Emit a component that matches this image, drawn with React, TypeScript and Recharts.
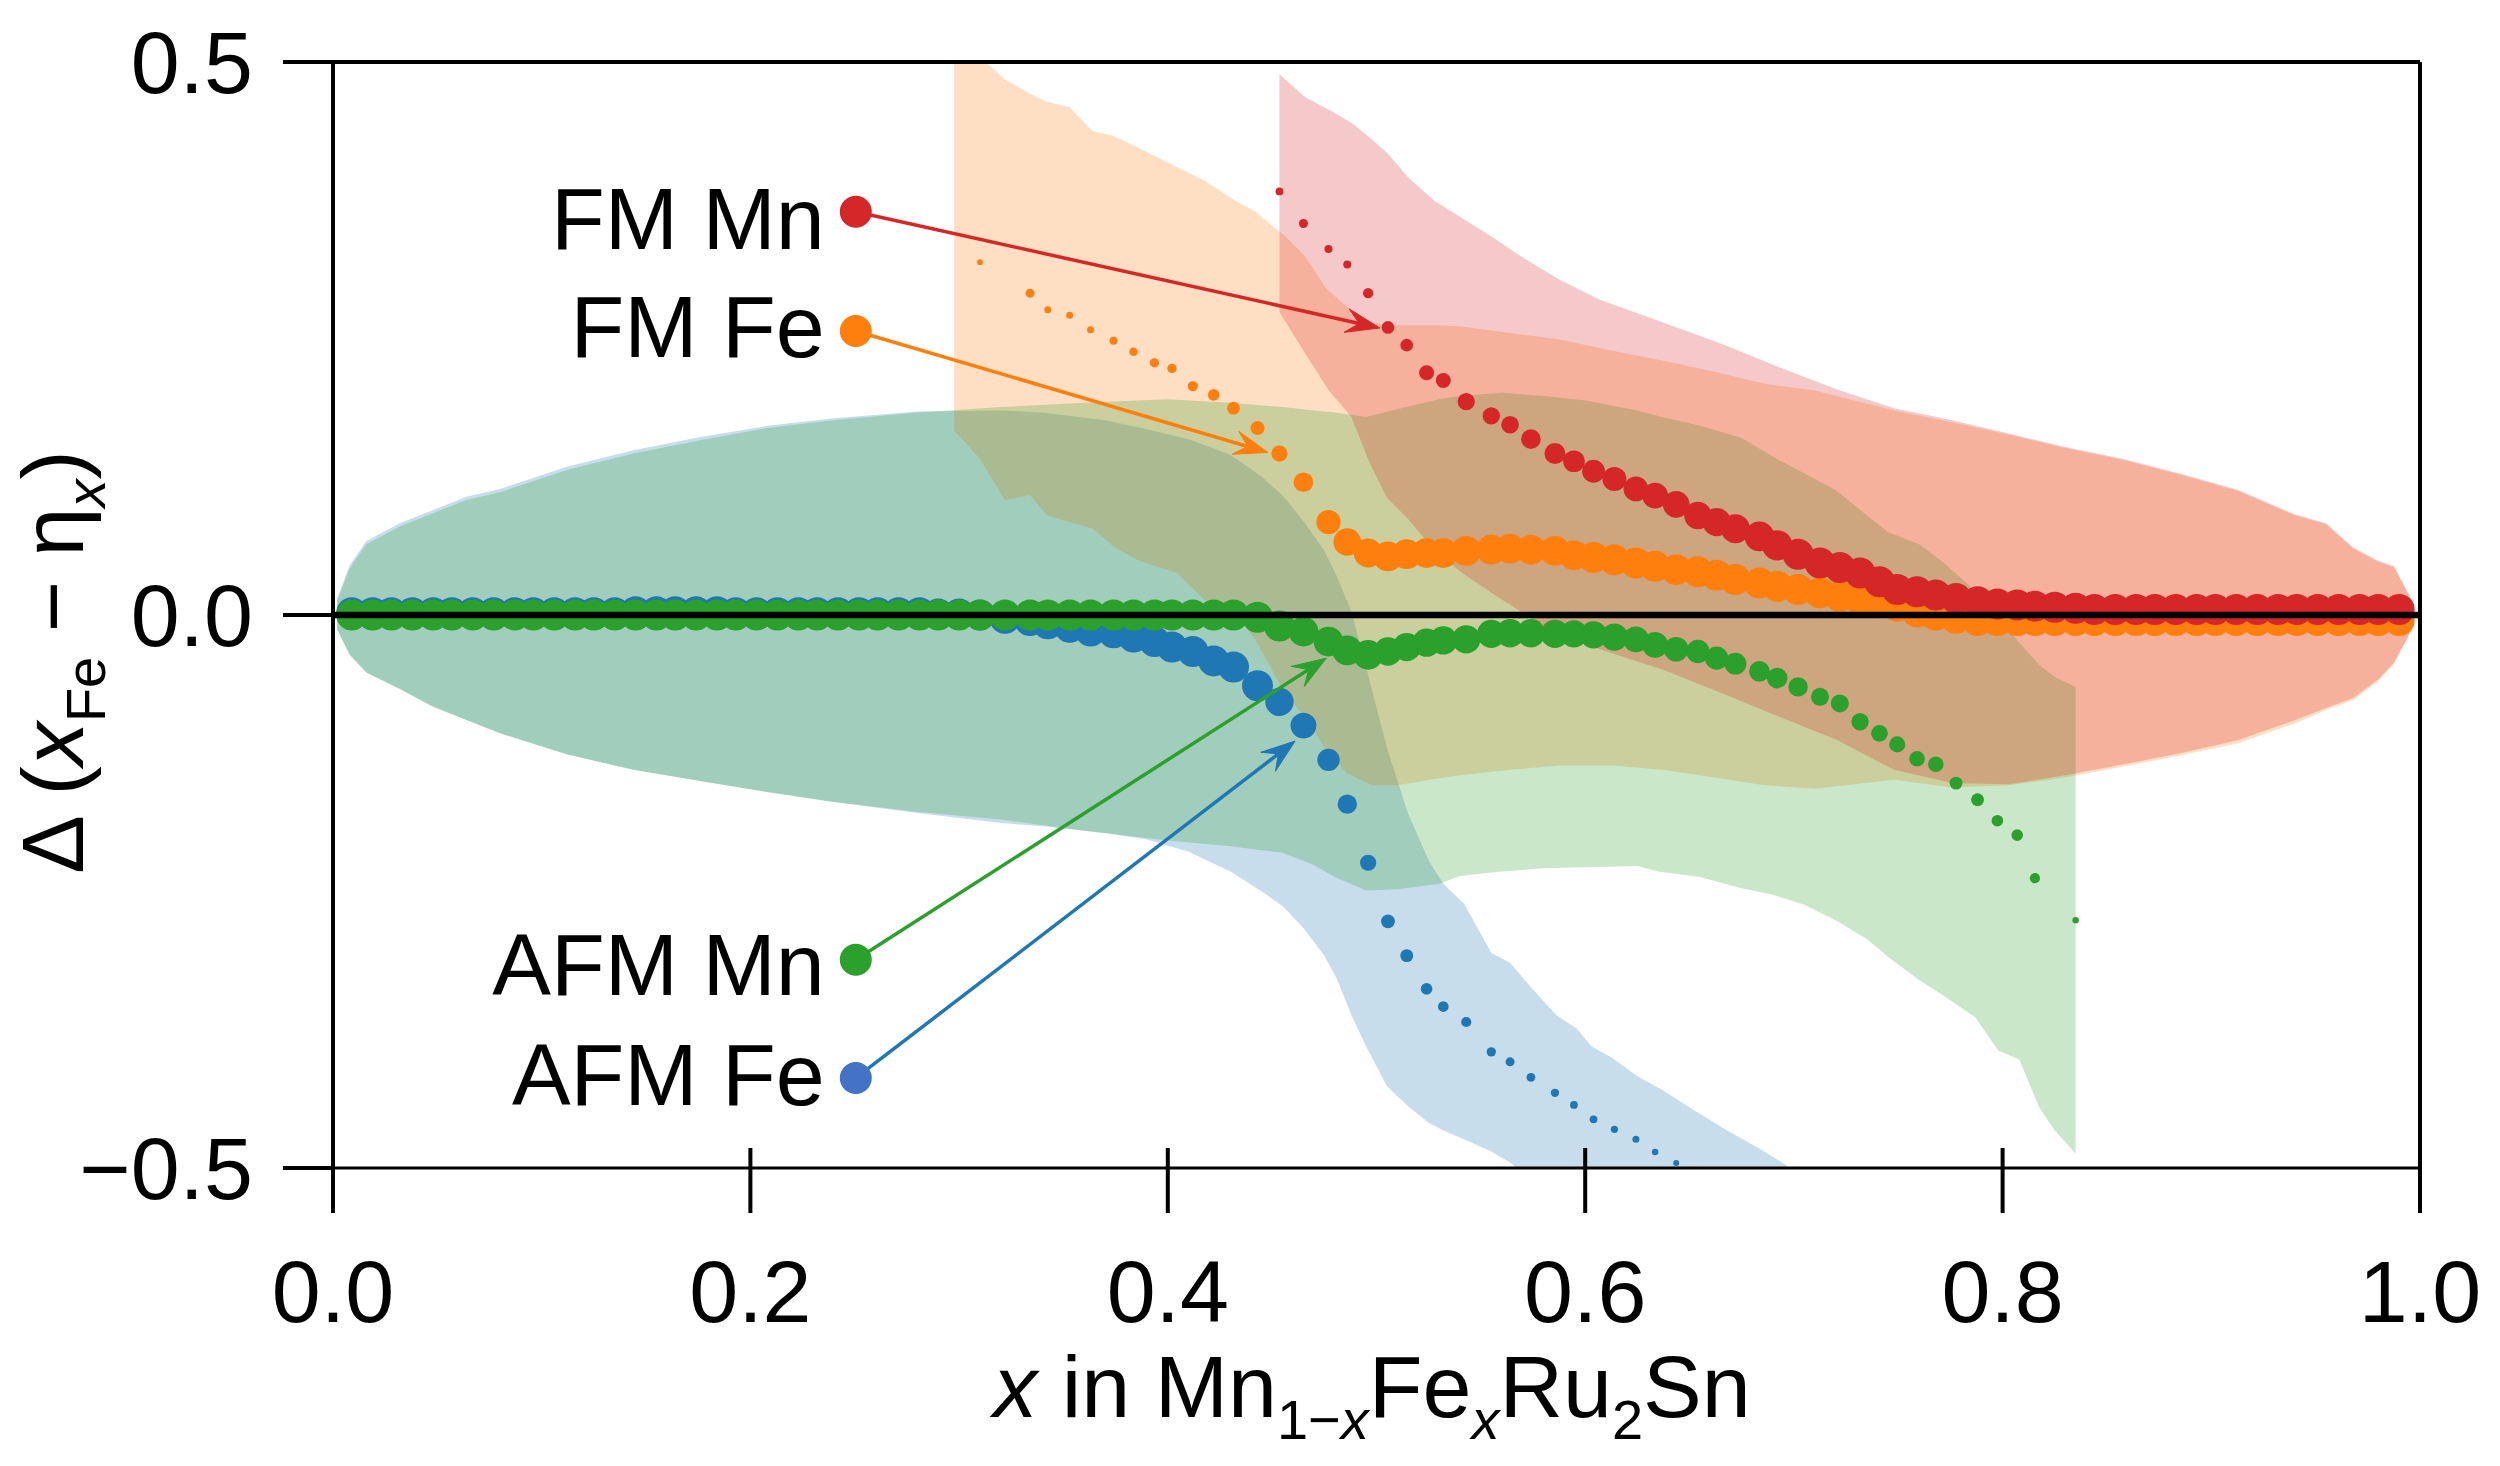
import { ComposedChart, XAxis, YAxis, ZAxis, Area, Scatter, ReferenceLine, ReferenceDot } from "recharts"

const FONT = "'Liberation Sans', Arial, Helvetica, sans-serif"

const BLUE = "#1f77b4"
const ORANGE = "#ff7f0e"
const GREEN = "#2ca02c"
const RED = "#d62728"

const xTicks = [0, 0.2, 0.4, 0.6, 0.8, 1.0]
const yTicks = [-0.5, 0, 0.5]

// --- AFM Fe (blue) points ---
const afmFeX = [
  0.009, 0.019, 0.028, 0.038, 0.048, 0.057, 0.067, 0.077, 0.087, 0.096, 0.106, 0.116, 0.125, 0.135, 0.145, 0.155,
  0.164, 0.174, 0.184, 0.193, 0.203, 0.213, 0.223, 0.232, 0.242, 0.252, 0.261, 0.271, 0.281, 0.29, 0.3,
  0.31, 0.322, 0.334, 0.3425, 0.353, 0.363, 0.374, 0.3836, 0.3936, 0.402, 0.412, 0.422, 0.4315, 0.443, 0.4535,
  0.465, 0.477, 0.486, 0.496, 0.5055, 0.5145, 0.524, 0.532, 0.543, 0.555, 0.564, 0.574, 0.5855, 0.5946, 0.604,
  0.614, 0.6243, 0.6335, 0.6436,
]
const afmFeY = [
  0.002, 0.002, 0.002, 0.002, 0.002, 0.002, 0.002, 0.002, 0.002, 0.002, 0.002, 0.002, 0.002, 0.002, 0.003, 0.003,
  0.003, 0.003, 0.003, 0.002, 0.002, 0.002, 0.002, 0.002, 0.002, 0.002, 0.002, 0.002, 0.002, 0.001, 0.001,
  0, -0.003, -0.005, -0.008, -0.011, -0.0145, -0.016, -0.02, -0.024, -0.029, -0.033, -0.0415, -0.047, -0.064, -0.0785,
  -0.1, -0.131, -0.171, -0.224, -0.277, -0.308, -0.338, -0.354, -0.368, -0.395, -0.404, -0.418, -0.432, -0.443, -0.456,
  -0.465, -0.474, -0.4855, -0.4955,
]
const afmFeW = [
  0.92, 0.92, 0.92, 0.92, 0.92, 0.92, 0.92, 0.92, 0.92, 0.92, 0.92, 0.92, 0.92, 0.92, 0.92, 0.92,
  0.92, 0.92, 0.92, 0.92, 0.92, 0.92, 0.92, 0.92, 0.92, 0.92, 0.92, 0.92, 0.92, 0.92, 0.92,
  0.92, 0.92, 0.92, 0.92, 0.92, 0.92, 0.92, 0.92, 0.92, 0.92, 0.92, 0.92, 0.92, 0.92, 0.77,
  0.64, 0.48, 0.36, 0.25, 0.18, 0.16, 0.13, 0.11, 0.1, 0.083, 0.078, 0.074, 0.066, 0.058, 0.058,
  0.05, 0.047, 0.04, 0.034,
]

// --- AFM Mn (green) points ---
const afmMnX = [
  0.009, 0.019, 0.028, 0.038, 0.048, 0.057, 0.067, 0.077, 0.087, 0.096, 0.106, 0.116, 0.125, 0.135, 0.145, 0.155,
  0.164, 0.174, 0.184, 0.193, 0.203, 0.213, 0.223, 0.232, 0.242, 0.252, 0.261, 0.271, 0.281, 0.29, 0.3,
  0.31, 0.322, 0.334, 0.3425, 0.353, 0.363, 0.374, 0.3836, 0.3936, 0.402, 0.412, 0.422, 0.4315, 0.443, 0.4535,
  0.465, 0.477, 0.486, 0.496, 0.5055, 0.5145, 0.524, 0.532, 0.543, 0.555, 0.564, 0.574, 0.5855, 0.5946, 0.604,
  0.614, 0.6243, 0.6335, 0.6436, 0.654, 0.663, 0.672, 0.6835, 0.692, 0.702, 0.7125, 0.722, 0.7317, 0.741, 0.7495,
  0.759, 0.768, 0.7777, 0.788, 0.7975, 0.807, 0.8155, 0.835,
]
const afmMnY = [
  0, 0, 0, 0, 0, 0, 0, 0, 0, 0, 0, 0, 0, 0, 0, 0,
  0, 0, 0, 0, 0, 0, 0, 0, 0, 0, 0, 0, 0, 0, 0,
  0, 0, 0, 0, 0, 0, 0, 0, 0, 0, 0, 0, 0, -0.002, -0.01,
  -0.015, -0.024, -0.032, -0.036, -0.033, -0.029, -0.025, -0.023, -0.022, -0.017, -0.0165, -0.0165, -0.017, -0.017, -0.018,
  -0.02, -0.022, -0.027, -0.031, -0.033, -0.039, -0.044, -0.051, -0.057, -0.065, -0.074, -0.08, -0.0965, -0.107, -0.117,
  -0.13, -0.135, -0.152, -0.167, -0.186, -0.199, -0.238, -0.276,
]
const afmMnW = [
  0.92, 0.92, 0.92, 0.92, 0.92, 0.92, 0.92, 0.92, 0.92, 0.92, 0.92, 0.92, 0.92, 0.92, 0.92, 0.92,
  0.92, 0.92, 0.92, 0.92, 0.92, 0.92, 0.92, 0.92, 0.92, 0.92, 0.92, 0.92, 0.92, 0.92, 0.92,
  0.92, 0.92, 0.92, 0.92, 0.92, 0.92, 0.92, 0.92, 0.92, 0.92, 0.92, 0.92, 0.92, 0.92, 0.92,
  0.85, 0.85, 0.85, 0.85, 0.77, 0.77, 0.77, 0.77, 0.77, 0.77, 0.77, 0.77, 0.77, 0.71, 0.71,
  0.71, 0.64, 0.64, 0.58, 0.52, 0.52, 0.46, 0.41, 0.41, 0.36, 0.31, 0.31, 0.29, 0.27, 0.25,
  0.23, 0.23, 0.16, 0.16, 0.13, 0.13, 0.1, 0.04,
]

// --- FM Fe (orange) points ---
const fmFeX = [
  0.31, 0.334, 0.3425, 0.353, 0.363, 0.374, 0.3836, 0.3936, 0.402, 0.412, 0.422, 0.4315, 0.443, 0.4535,
  0.465, 0.477, 0.486, 0.496, 0.5055, 0.5145, 0.524, 0.532, 0.543, 0.555, 0.564, 0.574, 0.5855, 0.5946, 0.604,
  0.614, 0.6243, 0.6335, 0.6436, 0.654, 0.663, 0.672, 0.6835, 0.692, 0.702, 0.7125, 0.722, 0.7317, 0.741, 0.7495,
  0.759, 0.768, 0.7777, 0.788, 0.7975, 0.807, 0.8155, 0.825, 0.835,
  0.844, 0.854, 0.864, 0.873, 0.883, 0.893, 0.902, 0.912, 0.922, 0.932, 0.941, 0.951, 0.961, 0.971, 0.98, 0.99,
]
const fmFeY = [
  0.319, 0.291, 0.276, 0.271, 0.258, 0.248, 0.238, 0.228, 0.223, 0.207, 0.199, 0.187, 0.169, 0.146,
  0.12, 0.084, 0.066, 0.056, 0.053, 0.055, 0.056, 0.056, 0.058, 0.059, 0.06, 0.059, 0.058, 0.054, 0.052,
  0.05, 0.047, 0.044, 0.041, 0.039, 0.036, 0.032, 0.029, 0.026, 0.023, 0.02, 0.017, 0.014, 0.011, 0.008,
  0.003, 0, -0.003, -0.005, -0.005, -0.005, -0.005, -0.005, -0.005,
  -0.005, -0.005, -0.005, -0.005, -0.005, -0.005, -0.005, -0.005, -0.005, -0.005, -0.005, -0.005, -0.005, -0.005, -0.005, -0.005,
]
const fmFeW = [
  0.031, 0.078, 0.047, 0.047, 0.047, 0.062, 0.07, 0.083, 0.083, 0.102, 0.13, 0.154, 0.187, 0.254,
  0.37, 0.566, 0.733, 0.8, 0.85, 0.85, 0.85, 0.85, 0.85, 0.85, 0.85, 0.85, 0.85, 0.85, 0.92,
  0.92, 0.92, 0.92, 0.92, 0.92, 0.92, 0.92, 0.92, 0.92, 0.92, 0.92, 0.92, 0.92, 0.92, 0.92,
  0.92, 0.92, 0.92, 0.92, 0.92, 0.92, 0.92, 0.92, 0.92,
  0.92, 0.92, 0.92, 0.92, 0.92, 0.92, 0.92, 0.92, 0.92, 0.92, 0.92, 0.92, 0.92, 0.92, 0.92, 0.92,
]

// --- FM Mn (red) points ---
const fmMnX = [
  0.4535, 0.465, 0.477, 0.486, 0.496, 0.5055, 0.5145, 0.524, 0.532, 0.543, 0.555, 0.564, 0.574, 0.5855, 0.5946, 0.604,
  0.614, 0.6243, 0.6335, 0.6436, 0.654, 0.663, 0.672, 0.6835, 0.692, 0.702, 0.7125, 0.722, 0.7317, 0.741, 0.7495,
  0.759, 0.768, 0.7777, 0.788, 0.7975, 0.807, 0.8155, 0.825, 0.835,
  0.844, 0.854, 0.864, 0.873, 0.883, 0.893, 0.902, 0.912, 0.922, 0.932, 0.941, 0.951, 0.961, 0.971, 0.98, 0.99,
]
const fmMnY = [
  0.383, 0.354, 0.331, 0.317, 0.291, 0.26, 0.244, 0.219, 0.212, 0.193, 0.18, 0.172, 0.159, 0.146, 0.139, 0.13,
  0.123, 0.114, 0.108, 0.1, 0.09, 0.084, 0.078, 0.071, 0.063, 0.055, 0.047, 0.043, 0.038, 0.03, 0.023,
  0.021, 0.018, 0.015, 0.012, 0.01, 0.009, 0.008, 0.007, 0.006,
  0.005, 0.005, 0.005, 0.005, 0.005, 0.005, 0.005, 0.005, 0.005, 0.005, 0.005, 0.005, 0.005, 0.005, 0.005, 0.005,
]
const fmMnW = [
  0.058, 0.078, 0.062, 0.062, 0.102, 0.154, 0.154, 0.215, 0.215, 0.287, 0.287, 0.3, 0.37, 0.42, 0.45, 0.5,
  0.55, 0.59, 0.64, 0.68, 0.72, 0.77, 0.8, 0.85, 0.88, 0.92, 0.92, 0.92, 0.92, 0.92, 0.92,
  0.92, 0.92, 0.92, 0.92, 0.92, 0.92, 0.92, 0.92, 0.92,
  0.92, 0.92, 0.92, 0.92, 0.92, 0.92, 0.92, 0.92, 0.92, 0.92, 0.92, 0.92, 0.92, 0.92, 0.92, 0.92,
]

// --- uncertainty bands ---
const afmFeBandX = [
  0.002, 0.008, 0.016, 0.032, 0.048, 0.064, 0.08, 0.112, 0.144, 0.176, 0.208, 0.24, 0.28, 0.32, 0.34, 0.37, 0.39,
  0.41, 0.43, 0.445, 0.455, 0.465, 0.475, 0.481, 0.488, 0.495, 0.505, 0.515, 0.525, 0.532, 0.542, 0.555, 0.564,
  0.574, 0.586, 0.596, 0.603, 0.613, 0.625, 0.637, 0.652, 0.667, 0.684, 0.696, 0.7,
]
const afmFeBandLo = [
  -0.013, -0.036, -0.052, -0.067, -0.083, -0.095, -0.107, -0.126, -0.14, -0.15, -0.16, -0.169, -0.179, -0.188, -0.191, -0.197, -0.203,
  -0.214, -0.232, -0.25, -0.263, -0.283, -0.308, -0.329, -0.362, -0.39, -0.426, -0.444, -0.459, -0.466, -0.474, -0.485, -0.495,
  -0.51, -0.53, -0.55, -0.56, -0.57, -0.58, -0.59, -0.6, -0.61, -0.62, -0.63, -0.63,
]
const afmFeBandHi = [
  0.015, 0.045, 0.067, 0.083, 0.095, 0.107, 0.114, 0.134, 0.149, 0.161, 0.171, 0.178, 0.184, 0.185, 0.183, 0.176, 0.168,
  0.159, 0.145, 0.125, 0.108, 0.085, 0.058, 0.035, 0.003, -0.047, -0.12, -0.179, -0.222, -0.243, -0.261, -0.3055, -0.3145,
  -0.3365, -0.3615, -0.374, -0.39, -0.4005, -0.417, -0.4295, -0.4475, -0.465, -0.483, -0.497, -0.505,
]

const afmMnBandX = [
  0.002, 0.008, 0.016, 0.032, 0.048, 0.064, 0.08, 0.112, 0.144, 0.176, 0.208, 0.24, 0.28, 0.32, 0.36, 0.4, 0.43,
  0.455, 0.47, 0.48, 0.495, 0.51, 0.53, 0.54, 0.56, 0.58, 0.6, 0.625, 0.635, 0.655, 0.675, 0.69, 0.705, 0.72,
  0.735, 0.745, 0.76, 0.77, 0.787, 0.798, 0.808, 0.8175, 0.825, 0.835,
]
const afmMnBandLo = [
  -0.013, -0.036, -0.052, -0.067, -0.083, -0.095, -0.107, -0.126, -0.14, -0.15, -0.16, -0.169, -0.178, -0.185, -0.195, -0.204, -0.209,
  -0.215, -0.226, -0.237, -0.249, -0.248, -0.243, -0.236, -0.232, -0.229, -0.228, -0.227, -0.232, -0.237, -0.247, -0.253, -0.262, -0.276,
  -0.293, -0.309, -0.33, -0.342, -0.364, -0.394, -0.402, -0.445, -0.466, -0.487,
]
const afmMnBandHi = [
  0.013, 0.042, 0.064, 0.08, 0.092, 0.104, 0.111, 0.131, 0.146, 0.158, 0.169, 0.176, 0.183, 0.188, 0.192, 0.195, 0.192,
  0.188, 0.185, 0.183, 0.179, 0.186, 0.195, 0.198, 0.201, 0.198, 0.194, 0.185, 0.18, 0.171, 0.16, 0.143, 0.128, 0.113,
  0.09, 0.075, 0.064, 0.05, 0.022, 0, -0.025, -0.045, -0.056, -0.065,
]

const fmFeBandX = [
  0.2976, 0.31, 0.322, 0.334, 0.342, 0.353, 0.364, 0.374, 0.3856, 0.3915, 0.4044, 0.4173, 0.432, 0.4418, 0.4565,
  0.466, 0.476, 0.4858, 0.498, 0.51, 0.5285, 0.54, 0.564, 0.588, 0.613, 0.637, 0.662, 0.686, 0.71, 0.748,
  0.776, 0.803, 0.83, 0.858, 0.885, 0.913, 0.94, 0.955, 0.968, 0.98, 0.9876, 0.997,
]
const fmFeBandLo = [
  0.167, 0.141, 0.104, 0.1085, 0.09, 0.084, 0.078, 0.062, 0.0497, 0.0457, 0.038, 0.014, 0.003, -0.0217, -0.072,
  -0.093, -0.122, -0.143, -0.154, -0.154, -0.148, -0.145, -0.14, -0.136, -0.136, -0.14, -0.147, -0.154, -0.157, -0.149,
  -0.156, -0.154, -0.147, -0.137, -0.127, -0.116, -0.098, -0.086, -0.077, -0.06, -0.044, -0.01,
]
const fmFeBandHi = [
  0.52, 0.505, 0.484, 0.4715, 0.464, 0.459, 0.4375, 0.433, 0.423, 0.417, 0.405, 0.393, 0.375, 0.365, 0.342,
  0.324, 0.295, 0.279, 0.264, 0.262, 0.262, 0.261, 0.255, 0.249, 0.239, 0.23, 0.22, 0.209, 0.203, 0.185,
  0.174, 0.163, 0.151, 0.14, 0.127, 0.112, 0.09, 0.082, 0.06, 0.048, 0.043, 0.01,
]

const fmMnBandX = [
  0.4535, 0.466, 0.477, 0.488, 0.4966, 0.505, 0.5156, 0.528, 0.541, 0.556, 0.571, 0.588, 0.607, 0.638, 0.6656,
  0.693, 0.7207, 0.748, 0.776, 0.803, 0.83, 0.858, 0.885, 0.913, 0.94, 0.955, 0.968, 0.98, 0.9876, 0.997,
]
const fmMnBandLo = [
  0.274, 0.236, 0.2035, 0.179, 0.138, 0.106, 0.086, 0.058, 0.038, 0.019, 0.001, -0.019, -0.031, -0.05, -0.0707,
  -0.092, -0.113, -0.14, -0.152, -0.153, -0.145, -0.135, -0.125, -0.113, -0.095, -0.084, -0.075, -0.058, -0.043, -0.01,
]
const fmMnBandHi = [
  0.489, 0.468, 0.457, 0.445, 0.432, 0.418, 0.395, 0.374, 0.359, 0.341, 0.322, 0.303, 0.285, 0.264, 0.245,
  0.224, 0.204, 0.187, 0.176, 0.164, 0.152, 0.141, 0.128, 0.113, 0.091, 0.083, 0.061, 0.049, 0.044, 0.01,
]

// callout labels: marker position and arrow tip, in data units
const callouts = [
  { name: "FM Mn", line: RED, marker: RED, at: [0.2505, 0.3646], tip: [0.5016, 0.2595], textDy: 37 },
  { name: "FM Fe", line: ORANGE, marker: ORANGE, at: [0.2505, 0.2568], tip: [0.448, 0.147], textDy: 26 },
  { name: "AFM Mn", line: GREEN, marker: GREEN, at: [0.2505, -0.3117], tip: [0.476, -0.039], textDy: 35 },
  { name: "AFM Fe", line: BLUE, marker: "#4472c4", at: [0.2505, -0.4186], tip: [0.461, -0.114], textDy: 27 },
]

const points = (xs: number[], ys: number[], ws: number[]) => xs.map((x, i) => ({ x, y: ys[i], w: ws[i] }))
const band = (xs: number[], lo: number[], hi: number[]) => xs.map((x, i) => ({ x, range: [lo[i], hi[i]] }))

const afmFePts = points(afmFeX, afmFeY, afmFeW)
const afmMnPts = points(afmMnX, afmMnY, afmMnW)
const fmFePts = points(fmFeX, fmFeY, fmFeW)
const fmMnPts = points(fmMnX, fmMnY, fmMnW)

const afmFeBand = band(afmFeBandX, afmFeBandLo, afmFeBandHi)
const afmMnBand = band(afmMnBandX, afmMnBandLo, afmMnBandHi)
const fmFeBand = band(fmFeBandX, fmFeBandLo, fmFeBandHi)
const fmMnBand = band(fmMnBandX, fmMnBandLo, fmMnBandHi)

const fmt = (v: number) => (v < 0 ? "\u2212" : "") + Math.abs(v).toFixed(1)

function XTick(props: any) {
  const { x, y, payload } = props
  return (
    <g>
      <line x1={x} x2={x} y1={y - 20} y2={y + 45} stroke="#000" strokeWidth={4} />
      <text x={x} y={y + 154} textAnchor="middle" fontSize={88} fontFamily={FONT} fill="#000">
        {fmt(payload.value)}
      </text>
    </g>
  )
}

function YTick(props: any) {
  const { x, y, payload } = props
  return (
    <g>
      <line x1={x - 50} x2={x} y1={y} y2={y} stroke="#000" strokeWidth={4} />
      <text x={x - 80} y={y + 31} textAnchor="end" fontSize={88} fontFamily={FONT} fill="#000">
        {fmt(payload.value)}
      </text>
    </g>
  )
}

const xLabel = () => (
  <text x={1372} y={1417} textAnchor="middle" fontSize={88} fontFamily={FONT} fill="#000">
    <tspan fontStyle="italic">x</tspan>
    <tspan>{" in Mn"}</tspan>
    <tspan fontSize={56} dy={22}>1{"\u2212"}</tspan>
    <tspan fontSize={56} fontStyle="italic">x</tspan>
    <tspan dy={-22}>Fe</tspan>
    <tspan fontSize={56} fontStyle="italic" dy={22}>x</tspan>
    <tspan dy={-22}>Ru</tspan>
    <tspan fontSize={56} dy={22}>2</tspan>
    <tspan dy={-22}>Sn</tspan>
  </text>
)

const yLabel = () => (
  <text
    x={83}
    y={662}
    transform="rotate(-90 83 662)"
    textAnchor="middle"
    fontSize={88}
    fontFamily={FONT}
    fill="#000"
  >
    <tspan>{"\u0394 ("}</tspan>
    <tspan fontStyle="italic">x</tspan>
    <tspan fontSize={56} dy={22}>Fe</tspan>
    <tspan dy={-22}>{" \u2212 \u03b7"}</tspan>
    <tspan fontSize={56} fontStyle="italic" dy={22}>x</tspan>
    <tspan dy={-22}>)</tspan>
  </text>
)

function ArrowShape(props: any) {
  const { x1, y1, x2, y2, color } = props
  const dx = x2 - x1
  const dy = y2 - y1
  const len = Math.hypot(dx, dy) || 1
  const ux = dx / len
  const uy = dy / len
  const nx = -uy
  const ny = ux
  const L = 34
  const W = 12
  const bx = x2 - ux * L
  const by = y2 - uy * L
  const mx = x2 - ux * L * 0.62
  const my = y2 - uy * L * 0.62
  const head = `M${x2},${y2} L${bx + nx * W},${by + ny * W} L${mx},${my} L${bx - nx * W},${by - ny * W} Z`
  return (
    <g>
      <line x1={x1} y1={y1} x2={mx} y2={my} stroke={color} strokeWidth={3.5} />
      <path d={head} fill={color} stroke={color} strokeWidth={1} strokeLinejoin="miter" />
    </g>
  )
}

function CalloutMarker(props: any) {
  const { cx, cy, color, name, textDy } = props
  return (
    <g>
      <circle cx={cx} cy={cy} r={16} fill={color} />
      <text x={cx - 31} y={cy + textDy} textAnchor="end" fontSize={88} fontFamily={FONT} fill="#000">
        {name}
      </text>
    </g>
  )
}

export default function App() {
  return (
    <div style={{ position: "absolute", left: 0, top: 0, width: 2500, height: 1466, background: "#fff" }}>
      <ComposedChart width={2500} height={1466} margin={{ top: 62, right: 80, bottom: 0, left: 0 }}>
        <XAxis
          type="number"
          dataKey="x"
          domain={[0, 1]}
          ticks={xTicks}
          interval={0}
          allowDataOverflow
          height={298}
          tickSize={0}
          tickMargin={0}
          tickLine={false}
          axisLine={{ stroke: "#000", strokeWidth: 3 }}
          tick={<XTick />}
          label={{ content: xLabel }}
        />
        <YAxis
          type="number"
          dataKey="y"
          domain={[-0.5, 0.5]}
          ticks={yTicks}
          interval={0}
          allowDataOverflow
          width={333}
          tickSize={0}
          tickMargin={0}
          tickLine={false}
          axisLine={{ stroke: "#000", strokeWidth: 4 }}
          tick={<YTick />}
          label={{ content: yLabel }}
        />
        <ZAxis type="number" dataKey="w" domain={[0, 1]} range={[0, 820]} />

        <Area data={afmFeBand} dataKey="range" type="linear" fill={BLUE} fillOpacity={0.25} stroke="none" dot={false} activeDot={false} isAnimationActive={false} />
        <Area data={fmFeBand} dataKey="range" type="linear" fill={ORANGE} fillOpacity={0.25} stroke="none" dot={false} activeDot={false} isAnimationActive={false} />
        <Area data={afmMnBand} dataKey="range" type="linear" fill={GREEN} fillOpacity={0.25} stroke="none" dot={false} activeDot={false} isAnimationActive={false} />
        <Area data={fmMnBand} dataKey="range" type="linear" fill={RED} fillOpacity={0.25} stroke="none" dot={false} activeDot={false} isAnimationActive={false} />

        <Scatter data={afmFePts} dataKey="y" fill={BLUE} isAnimationActive={false} />
        <Scatter data={fmFePts} dataKey="y" fill={ORANGE} isAnimationActive={false} />
        <Scatter data={afmMnPts} dataKey="y" fill={GREEN} isAnimationActive={false} />
        <Scatter data={fmMnPts} dataKey="y" fill={RED} isAnimationActive={false} />

        <ReferenceLine y={0} stroke="#000" strokeWidth={6.5} zIndex={700} />
        <ReferenceLine y={0.5} stroke="#000" strokeWidth={4} ifOverflow="visible" zIndex={700} />
        <ReferenceLine x={1} stroke="#000" strokeWidth={4} ifOverflow="visible" zIndex={700} />

        {callouts.map((c) => (
          <ReferenceLine
            key={"arrow-" + c.name}
            segment={[
              { x: c.at[0], y: c.at[1] },
              { x: c.tip[0], y: c.tip[1] },
            ]}
            ifOverflow="visible"
            zIndex={800}
            shape={(p: any) => <ArrowShape {...p} color={c.line} />}
          />
        ))}
        {callouts.map((c) => (
          <ReferenceDot
            key={"dot-" + c.name}
            x={c.at[0]}
            y={c.at[1]}
            r={16}
            ifOverflow="visible"
            zIndex={900}
            shape={(p: any) => <CalloutMarker {...p} color={c.marker} name={c.name} textDy={c.textDy} />}
          />
        ))}
      </ComposedChart>
    </div>
  )
}
